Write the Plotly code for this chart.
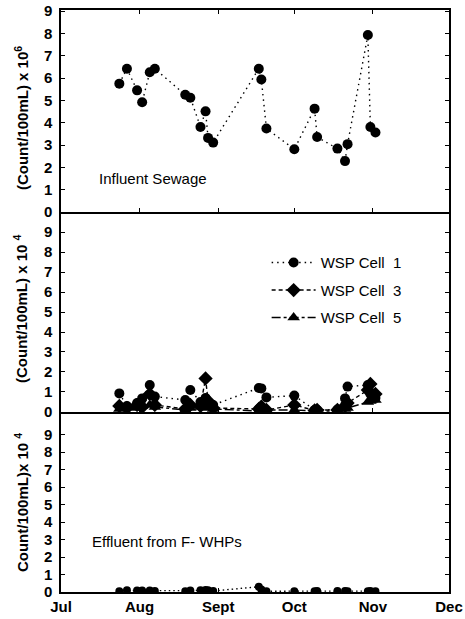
import plotly.graph_objects as go
from plotly.subplots import make_subplots

# Sampling dates (Jul - Nov)
dates = ["2001-07-24", "2001-07-27", "2001-07-31", "2001-08-02", "2001-08-05", "2001-08-07",
         "2001-08-19", "2001-08-21", "2001-08-25", "2001-08-27", "2001-08-28", "2001-08-30",
         "2001-09-17", "2001-09-18", "2001-09-20", "2001-10-01", "2001-10-09", "2001-10-10",
         "2001-10-18", "2001-10-21", "2001-10-22", "2001-10-30", "2001-10-31", "2001-11-02"]

# Influent sewage, x 10^6 count/100mL
influent = [5.75, 6.42, 5.45, 4.92, 6.26, 6.42,
            5.25, 5.12, 3.81, 4.51, 3.32, 3.11,
            6.42, 5.94, 3.74, 2.81, 4.63, 3.36,
            2.84, 2.28, 3.04, 7.93, 3.81, 3.56]

# WSP cells, x 10^4 count/100mL
wsp_cell1 = [0.93, 0.30, 0.45, 0.68, 1.35, 0.77,
             0.60, 1.10, 0.50, 0.70, 0.40, 0.35,
             1.20, 1.18, 0.73, 0.82, 0.10, 0.10,
             0.12, 0.68, 1.27, 1.35, 0.90, 0.70]
wsp_cell3 = [0.30, 0.20, 0.35, 0.25, 0.90, 0.35,
             0.15, 0.35, 0.30, 1.68, 0.55, 0.20,
             0.15, 0.27, 0.10, 0.35, 0.08, 0.10,
             0.10, 0.30, 0.45, 1.10, 1.40, 0.90]
wsp_cell5 = [0.15, 0.25, 0.20, 0.30, 0.35, 0.25,
             0.10, 0.20, 0.25, 0.30, 0.20, 0.15,
             0.05, 0.05, 0.10, 0.10, 0.05, 0.05,
             0.05, 0.15, 0.20, 0.50, 0.55, 0.60]

# Effluent from F-WHPs, x 10^4 count/100mL
effluent = [0.05, 0.10, 0.08, 0.08, 0.08, 0.06,
            0.05, 0.08, 0.10, 0.12, 0.10, 0.06,
            0.30, 0.15, 0.04, 0.05, 0.05, 0.06,
            0.06, 0.06, 0.05, 0.05, 0.06, 0.05]

month_ticks = ["2001-07-01", "2001-08-01", "2001-09-01", "2001-10-01", "2001-11-01", "2001-12-01"]
month_labels = ["Jul", "Aug", "Sept", "Oct", "Nov", "Dec"]
y_ticks = list(range(10))

FONT = "Liberation Sans, Arial, sans-serif"

fig = make_subplots(rows=3, cols=1, shared_xaxes=True, vertical_spacing=0)

fig.add_trace(go.Scatter(
    x=dates, y=influent, mode="lines+markers", showlegend=False,
    line=dict(color="black", width=1.4, dash="1.5px,4px"),
    marker=dict(symbol="circle", size=10, color="black")), row=1, col=1)

fig.add_trace(go.Scatter(
    x=dates, y=wsp_cell1, mode="lines+markers", name="WSP Cell\u00a0 1", legendgroup="c1",
    line=dict(color="black", width=1.4, dash="1.5px,4px"),
    marker=dict(symbol="circle", size=10, color="black")), row=2, col=1)
fig.add_trace(go.Scatter(
    x=dates, y=wsp_cell3, mode="lines+markers", name="WSP Cell\u00a0 3", legendgroup="c3",
    line=dict(color="black", width=1.4, dash="4px,3px"),
    marker=dict(symbol="diamond", size=11, color="black")), row=2, col=1)
fig.add_trace(go.Scatter(
    x=dates, y=wsp_cell5, mode="lines+markers", name="WSP Cell\u00a0 5", legendgroup="c5",
    line=dict(color="black", width=1.4, dash="dashdot"),
    marker=dict(symbol="triangle-up", size=11, color="black")), row=2, col=1)

fig.add_trace(go.Scatter(
    x=dates, y=effluent, mode="lines+markers", showlegend=False,
    line=dict(color="black", width=1.4, dash="1.5px,3px"),
    marker=dict(symbol="circle", size=8, color="black")), row=3, col=1)

axis_common = dict(showline=True, linecolor="black", linewidth=1.5, automargin=False,
                   ticks="inside", ticklen=4, tickcolor="black", showgrid=False, zeroline=False)
tickfont = dict(family=FONT, size=15, color="black", weight="bold")

for r in (1, 2, 3):
    # Only the top panel draws its own upper frame line; lower panels share the line above.
    fig.update_xaxes(axis_common, row=r, col=1, mirror=("ticks" if r == 1 else False),
                     range=["2001-07-01", "2001-12-01"],
                     tickvals=month_ticks, ticktext=month_labels,
                     showticklabels=(r == 3), tickfont=tickfont)

fig.update_yaxes(axis_common, row=1, col=1, mirror="ticks", range=[0, 9.05], domain=[0.6529, 1.0],
                 tickvals=y_ticks, tickfont=tickfont, ticklabelstandoff=4)
fig.update_yaxes(axis_common, row=2, col=1, mirror="ticks", range=[0, 10], domain=[0.3093, 0.6529],
                 tickvals=y_ticks, tickfont=tickfont, ticklabelstandoff=4)
fig.update_yaxes(axis_common, row=3, col=1, mirror="ticks", range=[0, 10.3], domain=[0.0, 0.3093],
                 tickvals=y_ticks, tickfont=tickfont, ticklabelstandoff=4)

title_font = dict(family=FONT, size=15, color="black", weight="bold")
label_font = dict(family=FONT, size=15, color="black")

annotations = [
    dict(text="(Count/100mL) x 10<sup>6</sup>", x=-0.103, y=0.8144),
    dict(text="(Count/100mL) x 10 <sup>4</sup>", x=-0.103, y=0.4863),
    dict(text="Count/100mL)x 10 <sup>4</sup>", x=-0.103, y=0.1529),
]
for a in annotations:
    fig.add_annotation(xref="paper", yref="paper", textangle=-90, showarrow=False,
                       xanchor="center", yanchor="middle", font=title_font, **a)

fig.add_annotation(text="Influent Sewage", xref="paper", yref="paper", x=0.0928, y=0.711,
                   xanchor="left", yanchor="middle", showarrow=False, font=label_font)
fig.add_annotation(text="Effluent from F- WHPs", xref="paper", yref="paper", x=0.0747, y=0.0876,
                   xanchor="left", yanchor="middle", showarrow=False, font=label_font)

fig.update_layout(
    width=465, height=619,
    margin=dict(l=61, r=16, t=10, b=27, autoexpand=False),
    plot_bgcolor="white", paper_bgcolor="white",
    font=dict(family=FONT, color="black"),
    legend=dict(x=0.53, y=0.594, xanchor="left", yanchor="top",
                font=dict(family=FONT, size=15, color="black"),
                bgcolor="rgba(0,0,0,0)", tracegroupgap=5, itemwidth=44),
)

fig.write_html("out.html")
